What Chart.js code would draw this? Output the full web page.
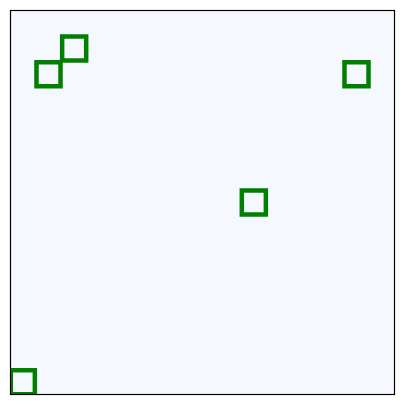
<!DOCTYPE html>
<html>
<head>
<meta charset="utf-8">
<script src="https://cdn.jsdelivr.net/npm/chart.js@4/dist/chart.umd.min.js"></script>
<style>
  html, body { margin: 0; padding: 0; background: #ffffff; }
  #wrap { width: 405px; height: 405px; }
</style>
</head>
<body>
<div id="wrap"><canvas id="chart" width="405" height="405"></canvas></div>
<script>
// point positions
const xValues = [0, 1, 2, 9, 13];
const yValues = [0, 12, 13, 7, 12];

const axisMin = -0.5;
const axisMax = 14.5;

const points = xValues.map((x, i) => ({ x: x, y: yValues[i] }));

// background + frame around the plot area
const frame = {
    id: "frame",
    beforeDraw(chart) {
        const { ctx, chartArea: a } = chart;
        ctx.save();
        ctx.fillStyle = "#f5f9ff";
        ctx.fillRect(a.left, a.top, a.right - a.left, a.bottom - a.top);
        ctx.restore();
    },
    afterDraw(chart) {
        const { ctx, chartArea: a } = chart;
        ctx.save();
        ctx.strokeStyle = "#000000";
        ctx.lineWidth = 1.2;
        ctx.strokeRect(a.left + 0.5, a.top + 0.5, a.right - a.left - 1, a.bottom - a.top - 1);
        ctx.restore();
    },
};

new Chart(document.getElementById("chart").getContext("2d"), {
    type: "scatter",
    data: {
        datasets: [
            {
                data: points,
                pointStyle: "rect",
                radius: 17,
                hoverRadius: 17,
                borderWidth: 4.5,
                borderColor: "#008000",
                backgroundColor: "rgba(0,0,0,0)",
                clip: 0,
            },
        ],
    },
    options: {
        responsive: false,
        animation: false,
        layout: { autoPadding: false, padding: { left: 10, top: 10, right: 10, bottom: 10 } },
        plugins: {
            legend: { display: false },
            tooltip: { enabled: false },
        },
        scales: {
            x: { type: "linear", min: axisMin, max: axisMax, display: false },
            y: { type: "linear", min: axisMin, max: axisMax, display: false },
        },
    },
    plugins: [frame],
});
</script>
</body>
</html>
